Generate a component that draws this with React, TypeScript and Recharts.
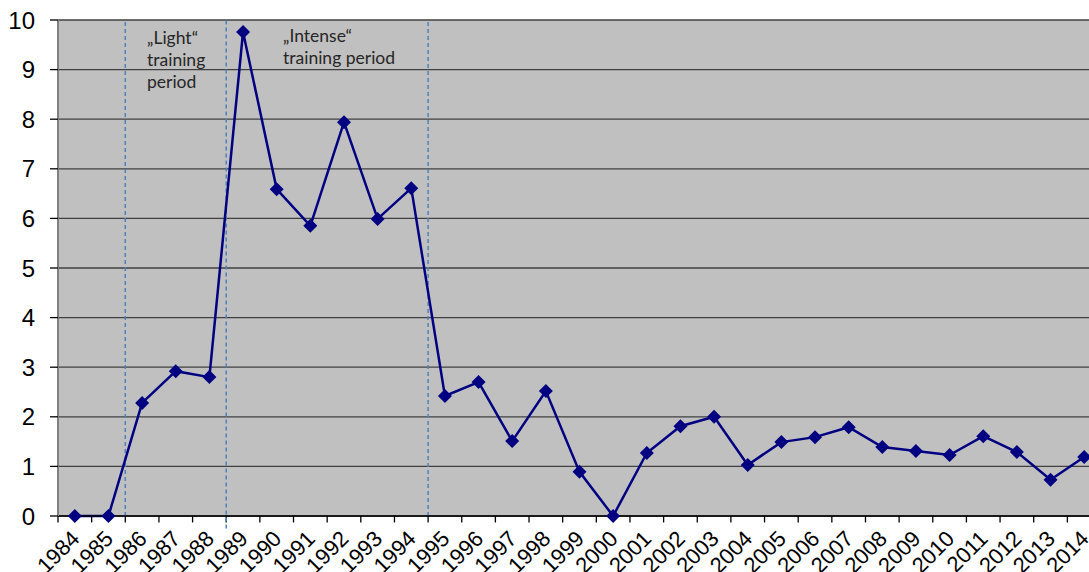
import React from "react";
import {
  LineChart,
  Line,
  XAxis,
  YAxis,
  CartesianGrid,
  ReferenceLine,
} from "recharts";

const years = [
  1984, 1985, 1986, 1987, 1988, 1989, 1990, 1991, 1992, 1993, 1994, 1995,
  1996, 1997, 1998, 1999, 2000, 2001, 2002, 2003, 2004, 2005, 2006, 2007,
  2008, 2009, 2010, 2011, 2012, 2013, 2014,
];
const values = [
  0, 0, 2.28, 2.92, 2.8, 9.76, 6.59, 5.85, 7.94, 5.99, 6.61, 2.42, 2.7, 1.51,
  2.52, 0.89, 0, 1.27, 1.81, 2.0, 1.03, 1.49, 1.59, 1.79, 1.39, 1.31, 1.23,
  1.61, 1.29, 0.73, 1.19,
];
const yTicks = [0, 1, 2, 3, 4, 5, 6, 7, 8, 9, 10];
const periodBoundaries = [1985.5, 1988.5, 1994.5];

const data = years.map((year, i) => ({ year, value: values[i] }));
const tickMarks = years.map((y) => y - 0.5);

const FONT = "'Liberation Sans', Arial, sans-serif";

const XTick = (props: any) => {
  const { x, y, payload } = props;
  const ax = x + 6;
  const ay = y + 22;
  return (
    <text
      x={ax}
      y={ay}
      transform={`rotate(-45 ${ax} ${ay})`}
      textAnchor="end"
      fontSize={22}
      fontFamily={FONT}
      fill="#000"
    >
      {payload.value}
    </text>
  );
};

const Diamond = (props: any) => {
  const { cx, cy, index } = props;
  const r = 7;
  return (
    <path
      key={`d-${index}`}
      d={`M${cx} ${cy - r} L${cx + r} ${cy} L${cx} ${cy + r} L${cx - r} ${cy} Z`}
      fill="#000080"
    />
  );
};

const noteStyle: React.CSSProperties = {
  position: "absolute",
  fontFamily: "Lato, 'Open Sans', sans-serif",
  fontSize: 17.5,
  lineHeight: "22px",
  color: "#262626",
  whiteSpace: "nowrap",
};

export default function App() {
  return (
    <div
      style={{
        position: "absolute",
        left: 0,
        top: 0,
        width: 1089,
        height: 572,
        overflow: "hidden",
        background: "#fff",
      }}
    >
      <LineChart
        width={1110}
        height={572}
        data={data}
        margin={{ top: 20, right: 9, left: 8, bottom: 0 }}
      >
        <CartesianGrid
          vertical={false}
          stroke="#404040"
          strokeWidth={1.3}
          fill="#c0c0c0"
          fillOpacity={1}
        />
        <XAxis
          dataKey="year"
          type="number"
          domain={[1983.5, 2014.5]}
          ticks={years}
          interval={0}
          tick={<XTick />}
          tickLine={false}
          tickSize={0}
          height={56}
          axisLine={{ stroke: "#000", strokeWidth: 1.5 }}
        />
        <YAxis
          domain={[0, 10]}
          ticks={yTicks}
          interval={0}
          width={50}
          tickSize={8}
          tickMargin={15}
          tick={{ fontSize: 24, fontFamily: FONT, fill: "#000" }}
          tickLine={{ stroke: "#000", strokeWidth: 1.3 }}
          axisLine={{ stroke: "#808080", strokeWidth: 2 }}
        />
        {tickMarks.map((t) => (
          <ReferenceLine
            key={`tm-${t}`}
            segment={[
              { x: t, y: 0 },
              { x: t, y: -0.13 },
            ]}
            stroke="#000"
            strokeWidth={1.3}
            ifOverflow="visible"
          />
        ))}
        {periodBoundaries.map((b, i) => (
          <ReferenceLine
            key={`pb-${b}`}
            segment={[
              { x: b, y: i === 1 ? -0.25 : 0 },
              { x: b, y: 10 },
            ]}
            stroke="#4f81bd"
            strokeWidth={1.5}
            strokeDasharray="4 3"
            ifOverflow="visible"
          />
        ))}
        <Line
          dataKey="value"
          stroke="#000080"
          strokeWidth={2.5}
          dot={<Diamond />}
          activeDot={false}
          isAnimationActive={false}
        />
      </LineChart>
      <div style={{ ...noteStyle, left: 147, top: 27 }}>
        „Light“
        <br />
        training
        <br />
        period
      </div>
      <div style={{ ...noteStyle, left: 283, top: 25 }}>
        „Intense“
        <br />
        training period
      </div>
    </div>
  );
}
